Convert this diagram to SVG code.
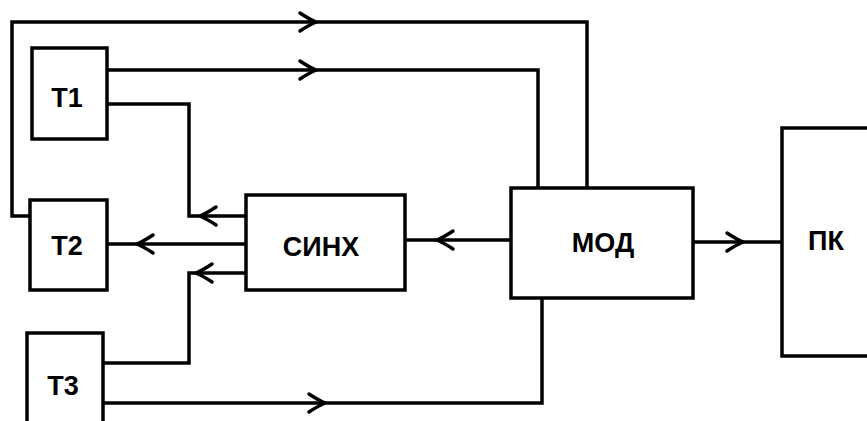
<svg xmlns="http://www.w3.org/2000/svg" xmlns:xlink="http://www.w3.org/1999/xlink" width="867" height="421" viewBox="0 0 867 421">
<style>
.box{fill:#fff;stroke:#000;stroke-width:3.5}
.ln{fill:none;stroke:#000;stroke-width:3.5;stroke-linejoin:miter}
.ar{fill:none;stroke:#000;stroke-width:3.5;stroke-linejoin:miter;stroke-linecap:round}
.lbl{font-family:"Liberation Sans",Arial,sans-serif;font-weight:bold;font-size:27px;fill:#000;text-anchor:middle;dominant-baseline:central}
</style>
<defs>
<path id="chev" d="M -16 -9 Q -7 -3 0 0 Q -7 3 -16 9"/>
</defs>
<rect width="867" height="421" fill="#fff"/>
<g id="connectors">
<path class="ln" d="M 30 216 H 12 V 22 H 587 V 188"/>
<path class="ln" d="M 107 70 H 538 V 188"/>
<path class="ln" d="M 246 216 H 189 V 104 H 107"/>
<path class="ln" d="M 246 244 H 107"/>
<path class="ln" d="M 246 273 H 189 V 363 H 103"/>
<path class="ln" d="M 103 403 H 542 V 298"/>
<path class="ln" d="M 511 240 H 405"/>
<path class="ln" d="M 693 242 H 782"/>
<use xlink:href="#chev" class="ar" transform="translate(316 22)"/>
<use xlink:href="#chev" class="ar" transform="translate(316 70)"/>
<use xlink:href="#chev" class="ar" transform="translate(325 403)"/>
<use xlink:href="#chev" class="ar" transform="translate(200 216) rotate(180)"/>
<use xlink:href="#chev" class="ar" transform="translate(137 244) rotate(180)"/>
<use xlink:href="#chev" class="ar" transform="translate(196 273) rotate(180)"/>
<use xlink:href="#chev" class="ar" transform="translate(437 240) rotate(180)"/>
<use xlink:href="#chev" class="ar" transform="translate(743 242)"/>
</g>
<g id="T1"><rect class="box" x="32" y="48" width="75" height="91"/><text class="lbl" x="67" y="98">T1</text></g>
<g id="T2"><rect class="box" x="30" y="200" width="77" height="90"/><text class="lbl" x="67" y="246">T2</text></g>
<g id="T3"><rect class="box" x="27" y="333" width="76" height="100"/><text class="lbl" x="63" y="386">T3</text></g>
<g id="SINH"><rect class="box" x="246" y="195" width="159" height="95"/><text class="lbl" x="321" y="247">СИНХ</text></g>
<g id="MOD"><rect class="box" x="511" y="188" width="182" height="110"/><text class="lbl" x="603" y="243">МОД</text></g>
<g id="PK"><rect class="box" x="782" y="128" width="100" height="228"/><text class="lbl" x="826" y="241">ПК</text></g>
</svg>
